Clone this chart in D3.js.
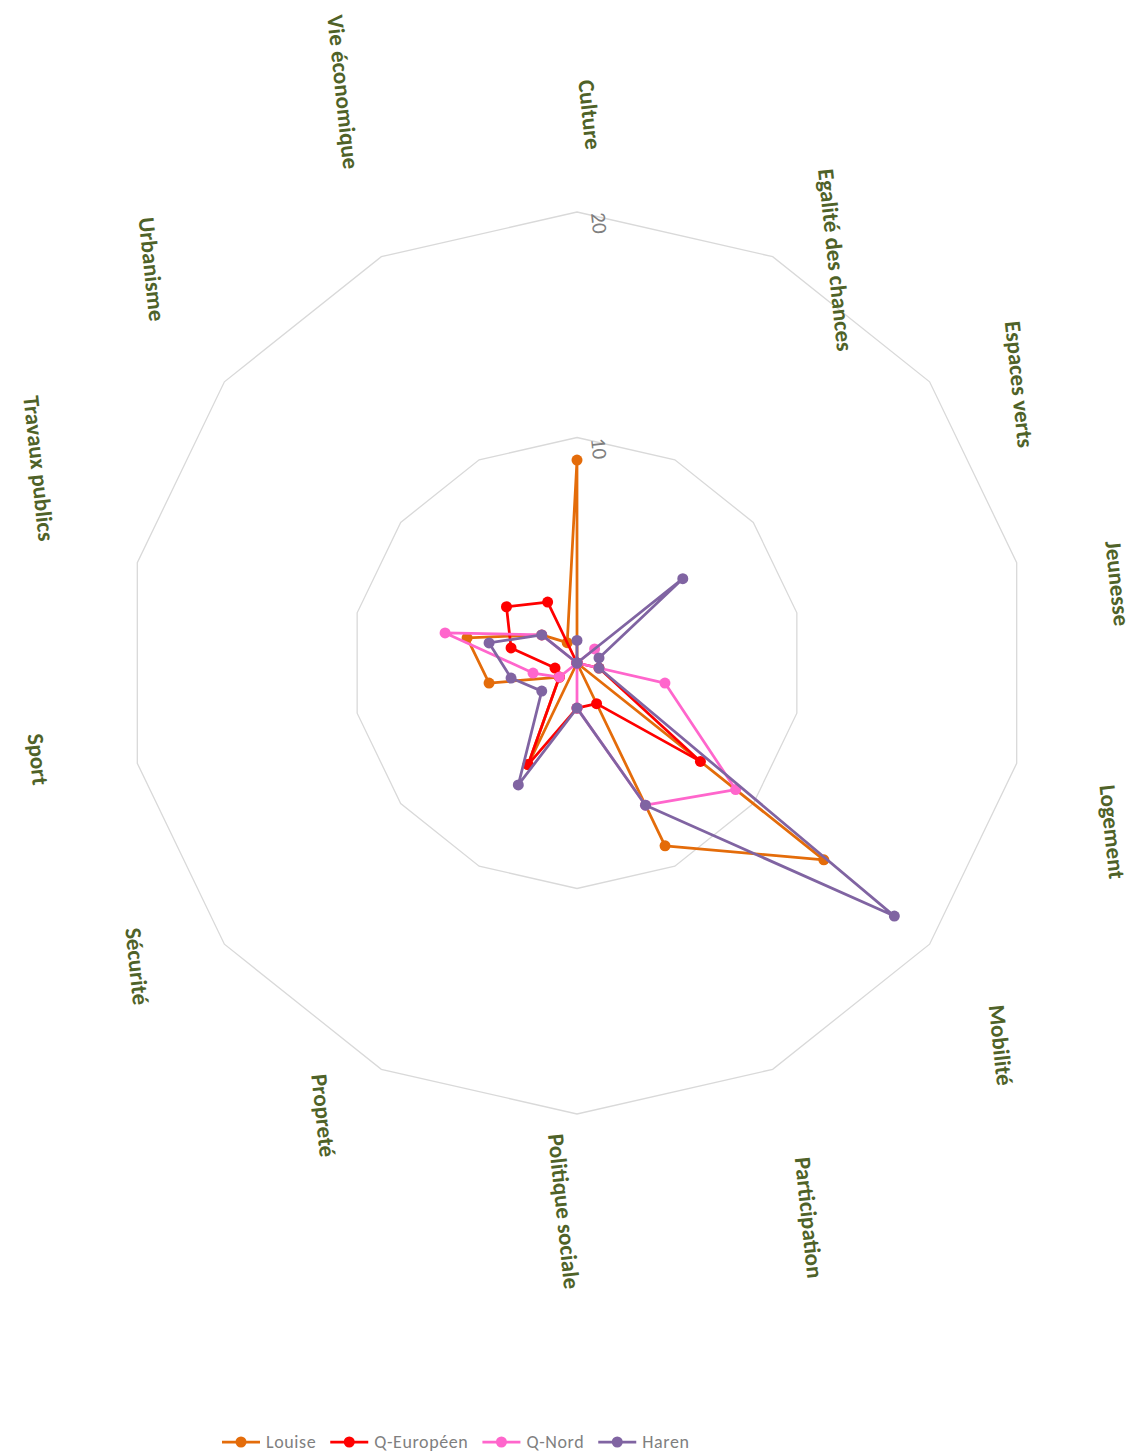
<!DOCTYPE html>
<html>
<head>
<meta charset="utf-8">
<script src="https://cdn.jsdelivr.net/npm/d3@7"></script>
<style>
  html, body { margin: 0; padding: 0; background: #fff; }
  svg { display: block; }
  .cat { font-family: Carlito, Calibri, Lato, sans-serif; font-weight: bold; font-size: 23px; fill: #4f6228; }
  .tick { font-family: Carlito, Calibri, Lato, sans-serif; font-size: 21px; fill: #7f7f7f; }
  .leg { font-family: Carlito, Calibri, Lato, sans-serif; font-size: 18px; fill: #7f7f7f; letter-spacing: 0.6px; }
</style>
</head>
<body>
<svg id="chart" width="1140" height="1454"></svg>
<script>
// --- data ---
const categories = ["Culture", "Egalité des chances", "Espaces verts", "Jeunesse", "Logement", "Mobilité",
  "Participation", "Politique sociale", "Propreté", "Sécurité", "Sport", "Travaux publics", "Urbanisme", "Vie économique"];
const louise    = [9, 0, 0, 0, 0, 14, 9, 0, 5, 1, 4, 5, 2, 1];
const qEuropeen = [0, 0, 0, 0, 1, 7, 2, 2, 5, 1, 1, 3, 4, 3];
const qNord     = [0, 0, 1, 0, 4, 9, 7, 2, 0, 1, 2, 6, 2, 0];
const haren     = [1, 0, 6, 1, 1, 18, 7, 2, 6, 2, 3, 4, 2, 0];
const seriesNames = ["Louise", "Q-Européen", "Q-Nord", "Haren"];
const ringTicks = [10, 20];

const colors = ["#e46c0a", "#ff0000", "#ff66cc", "#8064a2"];
const series = [louise, qEuropeen, qNord, haren].map((values, i) => ({ name: seriesNames[i], values, color: colors[i] }));

// --- layout ---
const cx = 577, cy = 663;
const labelRadius = 547;
const labelHalfHeight = 13;
const textRotate = 84;

const svg = d3.select("#chart");
const g = svg.append("g").attr("transform", `translate(${cx},${cy})`);

const r = d3.scaleLinear().domain([0, 20]).range([0, 451]);
const angle = d3.scaleLinear().domain([0, categories.length]).range([0, 2 * Math.PI]);
const pt = (i, v) => [Math.sin(angle(i)) * r(v), -Math.cos(angle(i)) * r(v)];

// grid rings (no spokes in the original)
const ringLine = d3.lineRadial()
  .angle((d, i) => angle(i))
  .radius(d => r(d))
  .curve(d3.curveLinearClosed);

g.selectAll(".ring")
  .data(ringTicks)
  .enter()
  .append("path")
  .attr("d", t => ringLine(categories.map(() => t)))
  .attr("fill", "none")
  .attr("stroke", "#d9d9d9")
  .attr("stroke-width", 1.3);

// value labels next to the first axis
g.selectAll(".tick")
  .data(ringTicks)
  .enter()
  .append("text")
  .attr("class", "tick")
  .attr("text-anchor", "middle")
  .attr("dominant-baseline", "central")
  .attr("transform", t => `translate(${pt(0, t)[0] + 22},${pt(0, t)[1] + 11}) rotate(${textRotate})`)
  .text(t => t);

// category labels: placed as if horizontal (above / below / beside the axis end), then turned
g.selectAll(".cat")
  .data(categories)
  .enter()
  .append("text")
  .attr("class", "cat")
  .attr("dominant-baseline", "central")
  .attr("text-anchor", (d, i) => {
    const a = angle(i);
    if (Math.abs(a) < 1e-6 || Math.abs(a - Math.PI) < 1e-6) return "middle";
    return a < Math.PI ? "start" : "end";
  })
  .attr("y", (d, i) => -Math.cos(angle(i)) * labelHalfHeight)
  .attr("transform", (d, i) => {
    const a = angle(i);
    const x = Math.sin(a) * labelRadius, y = -Math.cos(a) * labelRadius;
    return `translate(${x},${y}) rotate(${textRotate})`;
  })
  .text(d => d);

// series
const seriesLine = d3.lineRadial()
  .angle((d, i) => angle(i))
  .radius(d => r(d))
  .curve(d3.curveLinearClosed);

series.forEach(s => {
  const sg = g.append("g");
  sg.append("path")
    .attr("d", seriesLine(s.values))
    .attr("fill", "none")
    .attr("stroke", s.color)
    .attr("stroke-width", 2.75)
    .attr("stroke-linejoin", "round");
  sg.selectAll("circle")
    .data(s.values)
    .enter()
    .append("circle")
    .attr("cx", (d, i) => pt(i, d)[0])
    .attr("cy", (d, i) => pt(i, d)[1])
    .attr("r", 5.5)
    .attr("fill", s.color);
});

// legend
const legend = svg.append("g").attr("transform", "translate(222,1442)");
let lx = 0;
series.forEach(s => {
  const item = legend.append("g").attr("transform", `translate(${lx},0)`);
  item.append("line")
    .attr("x1", 0).attr("x2", 38).attr("y1", 0).attr("y2", 0)
    .attr("stroke", s.color).attr("stroke-width", 2.75);
  item.append("circle").attr("cx", 19).attr("cy", 0).attr("r", 5.5).attr("fill", s.color);
  const t = item.append("text")
    .attr("class", "leg")
    .attr("x", 44)
    .attr("dominant-baseline", "central")
    .text(s.name);
  lx += 44 + t.node().getComputedTextLength() + 14;
});
</script>
</body>
</html>
